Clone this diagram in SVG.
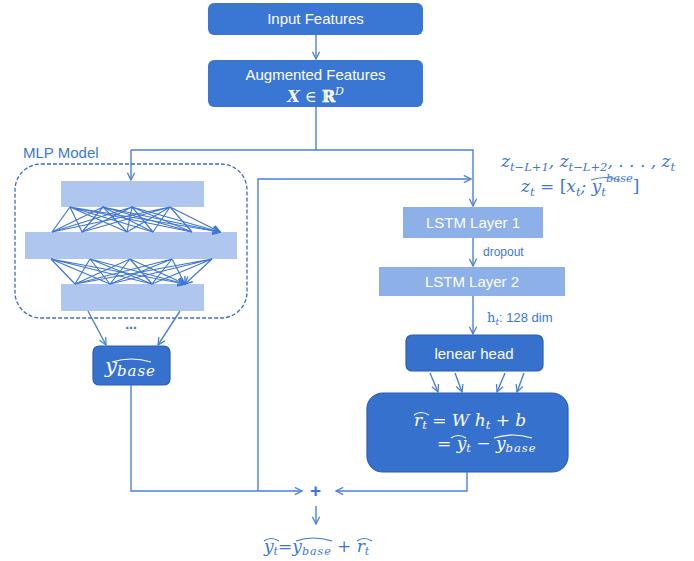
<svg xmlns="http://www.w3.org/2000/svg" width="694" height="561" viewBox="0 0 694 561">
<style>
.box{fill:#3A77D4;}
.dbox{fill:#3771CE;stroke:#2C5DB0;stroke-width:1.2;}
.lstm{fill:#8CB0E7;}
.layer{fill:#AFC7EE;}
.wt{font-family:"Liberation Sans",Arial,sans-serif;font-size:15px;fill:#fff;text-anchor:middle;}
.bl{font-family:"Liberation Sans",Arial,sans-serif;fill:#3A78D4;}
.mw{font-family:"DejaVu Serif","Liberation Serif",serif;font-style:italic;fill:#fff;}
.mb{font-family:"DejaVu Serif","Liberation Serif",serif;font-style:italic;fill:#3A78D4;}
.c{fill:none;stroke:#4A80D8;stroke-width:1.4;}
.n{fill:none;stroke:#3F77D2;stroke-width:1.2;}
.hat{fill:none;stroke-width:1.2;}
</style>
<defs>
<marker id="a" viewBox="0 0 10 10" refX="9" refY="5" markerWidth="9" markerHeight="9" markerUnits="userSpaceOnUse" orient="auto">
<path d="M1,1 L9,5 L1,9" fill="none" stroke="#4A80D8" stroke-width="1.4"/>
</marker>
<marker id="s" viewBox="0 0 10 10" refX="9" refY="5" markerWidth="9" markerHeight="9" markerUnits="userSpaceOnUse" orient="auto">
<path d="M1,1 L9,5 L1,9" fill="none" stroke="#3F77D2" stroke-width="1.5"/>
</marker>
</defs>

<g id="input-features">
<rect class="box" x="208" y="3" width="215" height="32" rx="6"/>
<text class="wt" x="315.5" y="24">Input Features</text>
</g>

<g id="augmented-features">
<rect class="box" x="208" y="60" width="215" height="47" rx="6"/>
<text class="wt" x="315.5" y="80">Augmented Features</text>
<text x="315.5" y="102" text-anchor="middle" font-family="DejaVu Serif,serif" font-size="16" fill="#fff"><tspan font-weight="bold" font-style="italic">X</tspan> ∈ <tspan font-weight="bold">ℝ</tspan><tspan font-style="italic" font-size="11" dy="-7">D</tspan></text>
</g>

<g id="mlp-model">
<text class="bl" x="23" y="158" font-size="15">MLP Model</text>
<rect x="15" y="164" width="232" height="154" rx="26" fill="none" stroke="#3F6CB8" stroke-width="1.3" stroke-dasharray="4 2"/>
<rect class="layer" x="61" y="181" width="143" height="26"/>
<rect class="layer" x="25" y="232" width="212" height="27"/>
<rect class="layer" x="61" y="284" width="143" height="27"/>
<g marker-end="url(#s)" class="n">
<path d="M70,207L52,232M70,207L82,232M70,207L127,232M70,207L153,232M70,207L192,232M70,207L220,232"/>
<path d="M103,207L52,232M103,207L82,232M103,207L127,232M103,207L153,232M103,207L192,232M103,207L220,232"/>
<path d="M132,207L52,232M132,207L82,232M132,207L127,232M132,207L153,232M132,207L192,232M132,207L220,232"/>
<path d="M170,207L52,232M170,207L82,232M170,207L127,232M170,207L153,232M170,207L192,232M170,207L220,232"/>
<path d="M51,259L75,284M51,259L110,284M51,259L152,284M51,259L185,284"/>
<path d="M90,259L75,284M90,259L110,284M90,259L152,284M90,259L185,284"/>
<path d="M130,259L75,284M130,259L110,284M130,259L152,284M130,259L185,284"/>
<path d="M172,259L75,284M172,259L110,284M172,259L152,284M172,259L185,284"/>
<path d="M212,259L75,284M212,259L110,284M212,259L152,284M212,259L185,284"/>
</g>
<text class="bl" x="131" y="329" font-size="14" text-anchor="middle" font-weight="bold">...</text>
</g>

<g id="y-base">
<rect class="dbox" x="93" y="346" width="77" height="39" rx="6"/>
<text class="mw" x="105" y="373" font-size="21">y<tspan font-size="15" dy="3" letter-spacing="1">base</tspan></text>
<path class="hat" stroke="#fff" d="M112,362 Q131,356 151,362"/>
</g>

<g id="z-sequence">
<text class="mb" x="501" y="167" font-size="17">z<tspan font-size="11.5" dy="4">t−L+1</tspan><tspan dy="-4">, z</tspan><tspan font-size="11.5" dy="4">t−L+2</tspan><tspan dy="-4">, . . . , z</tspan><tspan font-size="11.5" dy="4">t</tspan></text>
<text class="mb" x="521" y="192" font-size="17">z<tspan font-size="11.5" dy="4">t</tspan><tspan dy="-4" font-style="normal"> = [</tspan>x<tspan font-size="11.5" dy="4">t</tspan><tspan dy="-4">; y</tspan><tspan font-size="11.5" dy="4">t</tspan><tspan font-size="11.5" dy="-14">base</tspan><tspan dy="10" font-style="normal">]</tspan></text>
<path class="hat" stroke="#3A78D4" d="M591,180 Q605,175 620,180"/>
</g>

<g id="lstm-layer-1">
<rect class="lstm" x="403" y="207" width="140" height="31"/>
<text class="wt" x="473" y="228">LSTM Layer 1</text>
</g>
<text class="bl" x="483" y="256" font-size="12">dropout</text>

<g id="lstm-layer-2">
<rect class="lstm" x="379" y="267" width="186" height="29"/>
<text class="wt" x="472" y="287">LSTM Layer 2</text>
</g>
<text x="487" y="322" font-size="13" fill="#3A78D4"><tspan font-family="DejaVu Serif,serif">h</tspan><tspan font-family="DejaVu Serif,serif" font-style="italic" font-size="9" dy="3">t</tspan><tspan font-family="Liberation Sans,Arial,sans-serif" dy="-3">: 128 dim</tspan></text>

<g id="linear-head">
<rect class="dbox" x="406" y="335" width="137" height="36" rx="6"/>
<text class="wt" x="474" y="359">lenear head</text>
</g>

<g id="residual">
<rect class="dbox" x="367" y="393" width="201" height="79" rx="16"/>
<text class="mw" x="414" y="426" font-size="17">r<tspan font-size="11.5" dy="3">t</tspan><tspan dy="-3" font-style="normal"> = </tspan>W h<tspan font-size="11.5" dy="3">t</tspan><tspan dy="-3" font-style="normal"> + </tspan>b</text>
<path class="hat" stroke="#fff" d="M414,415 Q421,410 429,415"/>
<text class="mw" x="437" y="449" font-size="17"><tspan font-style="normal">= </tspan>y<tspan font-size="11.5" dy="3">t</tspan><tspan dy="-3" font-style="normal"> − </tspan>y<tspan font-size="11.5" dy="3" letter-spacing="1">base</tspan></text>
<path class="hat" stroke="#fff" d="M451,438 Q458,433 466,438"/>
<path class="hat" stroke="#fff" d="M494,438 Q512,432 532,438"/>
</g>

<g id="sum">
<text x="315.5" y="497" text-anchor="middle" font-family="Liberation Sans,Arial,sans-serif" font-size="19" font-weight="bold" fill="#3A78D4">+</text>
</g>

<g id="output-formula">
<text class="mb" x="264" y="552" font-size="17">y<tspan font-size="11" dy="3">t</tspan><tspan dy="-3" font-style="normal">=</tspan>y<tspan font-size="11" dy="3" letter-spacing="1">base</tspan><tspan dy="-3" font-style="normal"> + </tspan>r<tspan font-size="11" dy="3">t</tspan></text>
<path class="hat" stroke="#3A78D4" d="M264,541 Q271,536 279,541"/>
<path class="hat" stroke="#3A78D4" d="M296,541 Q313,535 332,541"/>
<path class="hat" stroke="#3A78D4" d="M357,541 Q364,536 372,541"/>
</g>

<g id="connectors">
<path class="c" d="M316,35 V59" marker-end="url(#a)"/>
<path class="c" d="M316,107 V150"/>
<path class="c" d="M131,150 H473 V206" marker-end="url(#a)"/>
<path class="c" d="M131,150 V180" marker-end="url(#a)"/>
<path class="c" d="M258,491 V179 H471" marker-end="url(#a)"/>
<path class="c" d="M473,238 V266" marker-end="url(#a)"/>
<path class="c" d="M473,296 V334" marker-end="url(#a)"/>
<path class="c" d="M430,373 L438,392" marker-end="url(#a)"/>
<path class="c" d="M455,373 L462,392" marker-end="url(#a)"/>
<path class="c" d="M505,373 L497,392" marker-end="url(#a)"/>
<path class="c" d="M524,373 L517,392" marker-end="url(#a)"/>
<path class="c" d="M88,311 L106,345" marker-end="url(#a)"/>
<path class="c" d="M180,311 L158,345" marker-end="url(#a)"/>
<path class="c" d="M131,385 V491 H302" marker-end="url(#a)"/>
<path class="c" d="M467,472 V491 H336" marker-end="url(#a)"/>
<path class="c" d="M316,506 V524" marker-end="url(#a)"/>
</g>
</svg>
